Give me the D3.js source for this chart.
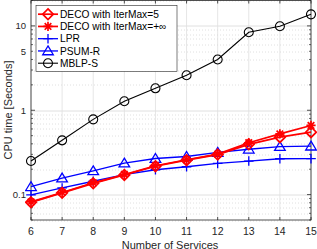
<!DOCTYPE html>
<html>
<head>
<meta charset="utf-8">
<script src="https://cdn.jsdelivr.net/npm/d3@7"></script>
<style>
  body { margin: 0; background: #fff; }
  text { font-family: "Liberation Sans", Arial, sans-serif; }
</style>
</head>
<body>
<svg id="chart" width="317" height="249"></svg>
<script>
// data
var services = [6, 7, 8, 9, 10, 11, 12, 13, 14, 15];
var decoIter5 = [0.081, 0.105, 0.136, 0.171, 0.217, 0.256, 0.298, 0.394, 0.48, 0.55];
var decoIterInf = [0.082, 0.106, 0.138, 0.173, 0.22, 0.259, 0.302, 0.412, 0.525, 0.66];
var lpr = [0.099, 0.12, 0.144, 0.173, 0.197, 0.214, 0.234, 0.25, 0.266, 0.267];
var psumR = [0.124, 0.157, 0.191, 0.236, 0.268, 0.283, 0.316, 0.345, 0.37, 0.375];
var mblpS = [0.25, 0.44, 0.78, 1.28, 1.82, 2.6, 4.0, 8.4, 9.9, 13.7];
var yTickLabels = [0.1, 1, 5, 10];
var seriesNames = ["DECO with IterMax=5", "DECO with IterMax=+\u221E", "LPR", "PSUM-R", "MBLP-S"];

var margin = {top: 0.5, right: 6, bottom: 29, left: 31};
var W = 317, H = 249;
var w = W - margin.left - margin.right, h = H - margin.top - margin.bottom;

var svg = d3.select("#chart");
var g = svg.append("g").attr("transform", "translate(" + margin.left + "," + margin.top + ")");

var x = d3.scaleLinear().domain([6, 15]).range([0, w]);
var y = d3.scaleLog().domain([0.05, 20]).range([h, 0]);

// minor values for log grid
var minor = [];
[0.01, 0.1, 1, 10].forEach(function (d) {
    for (var k = 2; k <= 9; k++) {
        var v = d * k;
        if (v >= 0.05 && v <= 20) minor.push(v);
    }
});
var majors = [0.1, 1, 10];

// grid
g.selectAll(".vgrid").data(services).enter().append("line")
    .attr("x1", function (d) { return x(d); }).attr("x2", function (d) { return x(d); })
    .attr("y1", 0).attr("y2", h)
    .attr("stroke", "#e6e6e6").attr("stroke-width", 1);
g.selectAll(".mgrid").data(minor).enter().append("line")
    .attr("x1", 0).attr("x2", w)
    .attr("y1", function (d) { return Math.round(y(d)) + 0.5; })
    .attr("y2", function (d) { return Math.round(y(d)) + 0.5; })
    .attr("stroke", "#d8d8d8").attr("stroke-width", 0.8).attr("stroke-dasharray", "1,2");
g.selectAll(".hgrid").data(majors).enter().append("line")
    .attr("x1", 0).attr("x2", w)
    .attr("y1", function (d) { return Math.round(y(d)) + 0.5; })
    .attr("y2", function (d) { return Math.round(y(d)) + 0.5; })
    .attr("stroke", "#e0e0e0").attr("stroke-width", 1);

// box
g.append("rect").attr("x", 0).attr("y", 0).attr("width", w).attr("height", h)
    .attr("fill", "none").attr("stroke", "#262626").attr("stroke-width", 0.8);

// ticks (inward)
var tk = 3;
g.selectAll(".xt").data(services).enter().append("path")
    .attr("d", function (d) { return "M" + x(d) + "," + h + "v" + (-tk) + "M" + x(d) + ",0v" + tk; })
    .attr("stroke", "#262626").attr("stroke-width", 0.8);
g.selectAll(".yt").data(majors).enter().append("path")
    .attr("d", function (d) { var yy = y(d); return "M0," + yy + "h" + (tk + 1) + "M" + w + "," + yy + "h" + (-tk - 1); })
    .attr("stroke", "#262626").attr("stroke-width", 0.8);
g.selectAll(".ymt").data(minor).enter().append("path")
    .attr("d", function (d) { var yy = y(d); return "M0," + yy + "h" + 2 + "M" + w + "," + yy + "h" + (-2); })
    .attr("stroke", "#262626").attr("stroke-width", 0.7);

// tick labels
g.selectAll(".xl").data(services).enter().append("text")
    .attr("x", function (d) { return x(d); }).attr("y", h + 15)
    .attr("text-anchor", "middle").attr("font-size", "10.5px").attr("fill", "#262626")
    .text(function (d) { return d; });
g.selectAll(".yl").data(yTickLabels).enter().append("text")
    .attr("x", -5).attr("y", function (d) { return y(d) + 3.5; })
    .attr("text-anchor", "end").attr("font-size", "9.5px").attr("fill", "#262626")
    .text(function (d) { return d; });

// axis titles
svg.append("text").attr("x", margin.left + w / 2 - 1).attr("y", 248.5)
    .attr("text-anchor", "middle").attr("font-size", "11px").attr("fill", "#262626")
    .text("Number of Services");
svg.append("text").attr("transform", "translate(12,110) rotate(-90)")
    .attr("text-anchor", "middle").attr("font-size", "11px").attr("fill", "#262626")
    .text("CPU time [Seconds]");

// markers
function marker(sel, type, color, sw) {
    var s;
    if (type == "diamond") {
        s = 5.3;
        sel.append("path").attr("d", "M0," + (-s) + "L" + s + ",0L0," + s + "L" + (-s) + ",0Z")
            .attr("fill", "none").attr("stroke", color).attr("stroke-width", sw);
    } else if (type == "star") {
        s = 4.6;
        var a = 3.3;
        sel.append("path").attr("d", "M0," + (-s) + "V" + s + "M" + (-s) + ",0H" + s +
            "M" + (-a) + "," + (-a) + "L" + a + "," + a + "M" + (-a) + "," + a + "L" + a + "," + (-a))
            .attr("stroke", color).attr("stroke-width", sw);
    } else if (type == "plus") {
        s = 4.8;
        sel.append("path").attr("d", "M0," + (-s) + "V" + s + "M" + (-s) + ",0H" + s)
            .attr("stroke", color).attr("stroke-width", sw);
    } else if (type == "triangle") {
        s = 5;
        sel.append("path").attr("d", "M0," + (-s) + "L" + (s + 0.3) + "," + (s - 1.2) + "L" + (-s - 0.3) + "," + (s - 1.2) + "Z")
            .attr("fill", "none").attr("stroke", color).attr("stroke-width", sw);
    } else if (type == "circle") {
        sel.append("circle").attr("r", 4.5).attr("fill", "none").attr("stroke", color).attr("stroke-width", sw);
    }
}

var series = [
    {name: seriesNames[0], values: decoIter5, color: "#ff0000", width: 1.7, mark: "diamond"},
    {name: seriesNames[1], values: decoIterInf, color: "#ff0000", width: 1.7, mark: "star"},
    {name: seriesNames[2], values: lpr, color: "#0000ff", width: 1.3, mark: "plus"},
    {name: seriesNames[3], values: psumR, color: "#0000ff", width: 1.3, mark: "triangle"},
    {name: seriesNames[4], values: mblpS, color: "#000000", width: 1.1, mark: "circle"}
];

var line = d3.line()
    .x(function (d, i) { return x(services[i]); })
    .y(function (d) { return y(d); });

var clip = svg.append("defs").append("clipPath").attr("id", "clip");
clip.append("rect").attr("x", -6).attr("y", -1).attr("width", w + 12).attr("height", h + 6);

var plot = g.append("g").attr("clip-path", "url(#clip)");
series.slice().reverse().forEach(function (s) {
    plot.append("path").datum(s.values).attr("d", line)
        .attr("fill", "none").attr("stroke", s.color).attr("stroke-width", s.width);
    s.values.forEach(function (v, i) {
        var m = plot.append("g").attr("transform", "translate(" + x(services[i]) + "," + y(v) + ")");
        marker(m, s.mark, s.color, s.width);
    });
});

// legend
var lg = g.append("g").attr("transform", "translate(5,5)");
lg.append("rect").attr("x", 0).attr("y", 0).attr("width", 141).attr("height", 66)
    .attr("fill", "#fff").attr("stroke", "#262626").attr("stroke-width", 0.6);
series.forEach(function (s, i) {
    var ly = 8.7 + i * 12.25;
    var row = lg.append("g").attr("transform", "translate(0," + ly + ")");
    row.append("line").attr("x1", 2).attr("x2", 22).attr("y1", 0).attr("y2", 0)
        .attr("stroke", s.color).attr("stroke-width", s.width);
    var m = row.append("g").attr("transform", "translate(12,0)");
    marker(m, s.mark, s.color, s.width);
    row.append("text").attr("x", 24).attr("y", 3.6).attr("font-size", "10.2px").attr("fill", "#000")
        .text(s.name);
});
</script>
</body>
</html>
